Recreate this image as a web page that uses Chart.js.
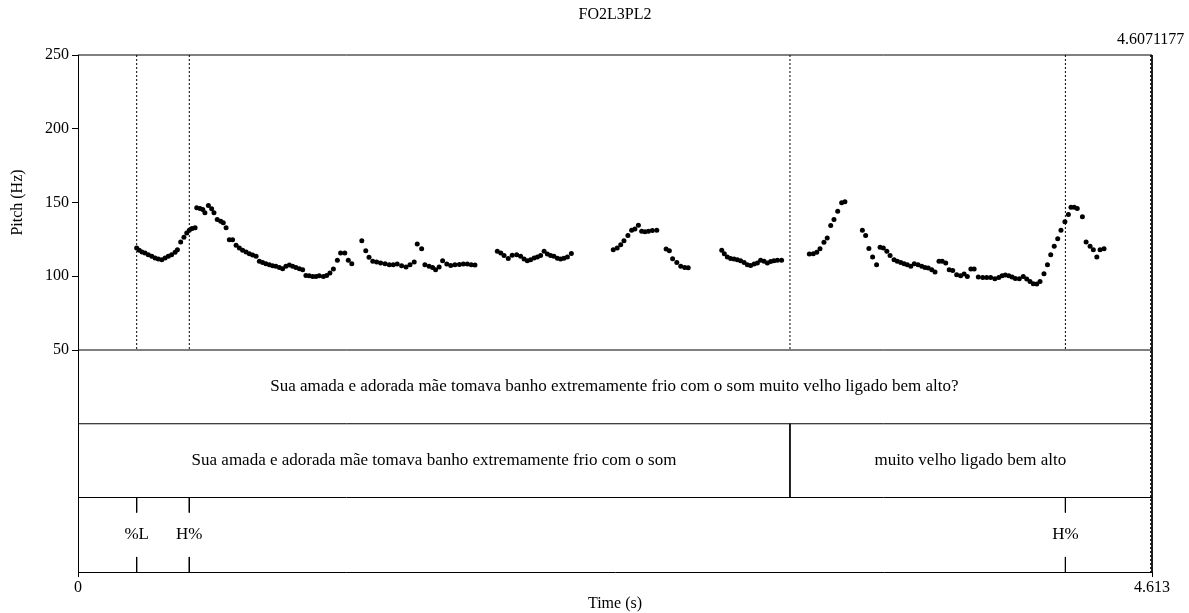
<!DOCTYPE html>
<html><head><meta charset="utf-8">
<script src="https://cdn.jsdelivr.net/npm/chart.js@4/dist/chart.umd.min.js"></script>
<style>html,body{margin:0;padding:0;background:#fff}canvas{display:block}</style>
</head><body>
<canvas id="c" width="1189" height="613"></canvas>
<script>
// ---------- data ----------
const chartTitle = 'FO2L3PL2';
const endTimeLabel = '4.6071177';
const textgridEnd = 4.6071177;
const timeMax = 4.613;
const xTickValues = [0, 4.613];
const xTickLabels = ['0', '4.613'];
const yTickValues = [50, 100, 150, 200, 250];
const yAxisTitle = 'Pitch (Hz)';
const xAxisTitle = 'Time (s)';

const pitchTime = [
 0.252,0.263,0.275,0.288,0.302,0.317,0.331,0.345,0.360,0.374,0.388,0.402,0.417,0.427,0.441,0.455,0.467,0.478,0.490,0.503,
 0.510,0.524,0.536,0.545,0.560,0.574,0.584,0.598,0.613,0.624,0.636,0.650,0.664,0.679,0.693,0.707,0.722,0.736,0.750,0.765,
 0.779,0.793,0.807,0.822,0.836,0.850,0.865,0.879,0.893,0.908,0.922,0.936,0.951,0.965,0.979,0.993,1.008,1.022,1.036,1.054,
 1.068,1.082,1.097,1.114,1.128,1.146,1.161,1.176,
 1.219,1.236,1.250,1.266,1.283,1.300,1.319,1.337,1.354,1.371,1.390,1.409,1.426,1.444,
 1.457,1.476,1.490,1.508,1.523,1.536,1.551,1.566,1.584,1.601,1.619,1.638,1.655,1.672,1.689,1.705,
 1.801,1.816,1.830,1.848,1.865,1.884,1.901,1.916,1.930,1.944,1.959,1.973,1.987,2.002,2.016,2.030,2.044,2.059,2.073,2.087,2.102,2.119,
 2.299,2.316,2.331,2.345,2.362,2.378,2.392,2.407,2.421,2.435,2.450,2.467,2.486,
 2.526,2.540,2.554,2.572,2.589,2.606,2.621,
 2.765,2.776,2.789,2.803,2.818,2.832,2.846,2.861,2.875,2.889,2.904,2.918,2.932,2.947,2.961,2.975,2.989,3.004,3.022,
 3.141,3.158,3.173,3.187,3.204,3.218,3.233,3.247,3.263,3.280,3.294,
 3.369,3.383,3.397,3.413,3.430,3.445,3.459,3.474,3.488,3.505,3.519,3.534,3.548,3.562,3.577,3.592,3.608,3.624,3.638,3.652,
 3.667,3.681,3.698,3.712,3.727,3.742,3.757,3.774,3.791,3.806,3.820,3.835,3.849,3.867,3.886,3.903,3.920,3.938,3.955,3.969,
 3.983,3.998,4.012,4.026,4.043,4.060,4.075,4.089,4.103,4.118,4.132,4.149,4.164,4.178,4.193,4.208,4.222,4.239,4.254,4.265,
 4.279,4.292,4.314,
 4.330,4.347,4.361,4.376,4.390,4.407
];
const pitchHz = [
 119.2,117.6,116.5,115.8,114.6,113.5,112.4,111.7,111.2,112.4,113.5,114.6,116.2,118.0,123.3,126.4,129.4,131.2,132.3,132.8,
 146.4,145.9,145.2,143.0,148.0,145.7,143.0,138.4,137.3,136.2,132.8,124.8,124.8,121.0,119.2,117.6,116.5,115.3,114.4,113.5,
 110.1,109.4,108.5,107.8,107.1,106.7,106.0,105.1,106.7,107.6,106.7,106.0,105.1,104.4,100.5,100.3,99.9,99.9,100.3,99.9,
 100.5,102.2,104.9,110.8,115.8,115.8,110.8,108.5,
 124.1,117.3,112.8,110.1,109.7,109.0,108.5,107.8,107.8,108.3,107.1,106.3,107.8,109.7,
 121.9,118.7,107.8,106.7,106.0,104.4,106.3,110.5,108.3,107.3,107.8,108.0,108.3,108.3,107.8,107.6,
 116.9,115.8,114.1,112.1,114.2,114.6,113.5,111.7,110.5,111.2,112.4,113.1,114.1,116.9,115.1,114.1,113.5,112.2,111.7,112.2,113.1,115.4,
 118.0,119.2,121.4,124.1,127.6,131.2,132.1,134.6,130.5,130.1,130.5,131.0,131.2,
 118.5,117.3,111.9,109.4,106.7,106.0,105.8,
 117.6,115.3,113.1,112.1,111.7,111.2,110.5,109.4,107.8,107.3,108.3,109.0,110.8,110.1,109.0,110.0,110.5,110.8,110.8,
 115.1,115.3,116.2,118.7,123.0,126.0,134.4,138.4,144.1,149.8,150.5,
 131.2,127.6,118.8,113.1,107.8,119.6,119.2,116.9,114.1,111.2,110.1,109.4,108.5,107.8,106.7,108.5,107.8,106.7,106.0,105.6,
 104.4,102.9,110.1,110.1,109.0,104.4,103.9,101.0,100.3,101.5,99.9,104.9,104.9,99.5,99.2,99.2,99.2,98.3,99.2,100.3,
 100.8,100.3,99.5,98.5,98.3,99.9,98.1,96.5,94.9,94.7,96.5,101.7,107.8,114.6,120.3,125.5,131.2,136.9,141.8,146.8,
 146.8,145.9,140.3,
 123.3,120.3,118.0,113.1,118.0,118.7
];

const tier1Bounds = [0, 4.6071177];
const tier1Labels = ['Sua amada e adorada mãe tomava banho extremamente frio com o som muito velho ligado bem alto?'];
const tier2Bounds = [0, 3.058, 4.6071177];
const tier2Labels = ['Sua amada e adorada mãe tomava banho extremamente frio com o som', 'muito velho ligado bem alto'];
const tier3Times = [0.252, 0.478, 4.241];
const tier3Labels = ['%L', 'H%', 'H%'];

// ---------- layout (value-space bands) ----------
const Y_TOP = 250, Y_PITCH_BOTTOM = 50, Y_MIN = -100.5;
const tierBands = [[0, 50], [-50, 0], [Y_MIN, -50]];
const TICK_LEN = 10.2;
const FONT = '"Liberation Serif", "Times New Roman", serif';

// ---------- build datasets ----------
const seg = (pts, opts) => Object.assign({
  type: 'line', data: pts, showLine: true, pointRadius: 0, borderColor: '#000',
  borderWidth: 1, fill: false, clip: false, tension: 0, order: 2
}, opts || {});

const datasets = [];
datasets.push({
  type: 'scatter', label: 'pitch',
  data: pitchTime.map((t, i) => ({x: t, y: pitchHz[i]})),
  pointRadius: 2.5, pointBackgroundColor: '#000', pointBorderWidth: 0, showLine: false, order: 1
});
// frame lines
datasets.push(seg([{x: 0, y: Y_TOP}, {x: timeMax, y: Y_TOP}]));
datasets.push(seg([{x: timeMax, y: Y_TOP}, {x: timeMax, y: Y_MIN}]));
[Y_PITCH_BOTTOM, 0, -50].forEach(v => datasets.push(seg([{x: 0, y: v}, {x: timeMax, y: v}])));
// end-of-textgrid dotted line
datasets.push(seg([{x: textgridEnd, y: Y_TOP}, {x: textgridEnd, y: Y_MIN}], {borderDash: [2, 2]}));
// tier 2 interior boundaries
tier2Bounds.slice(1, -1).forEach(t => {
  datasets.push(seg([{x: t, y: Y_TOP}, {x: t, y: Y_PITCH_BOTTOM}], {borderDash: [2, 2]}));
  datasets.push(seg([{x: t, y: 0}, {x: t, y: -50}]));
});
// tier 3 points
tier3Times.forEach(t => {
  datasets.push(seg([{x: t, y: Y_TOP}, {x: t, y: Y_PITCH_BOTTOM}], {borderDash: [2, 2]}));
  datasets.push(seg([{x: t, y: -50}, {x: t, y: -50 - TICK_LEN}]));
  datasets.push(seg([{x: t, y: Y_MIN + TICK_LEN}, {x: t, y: Y_MIN}]));
});

const textPlugin = {
  id: 'tgText',
  afterDraw(chart) {
    const {ctx, scales: {x, y}} = chart;
    ctx.save();
    ctx.fillStyle = '#000';
    ctx.textAlign = 'center';
    ctx.textBaseline = 'middle';
    ctx.font = '17px ' + FONT;
    const mid = (a, b) => (a + b) / 2;
    tier1Labels.forEach((s, i) => ctx.fillText(s, x.getPixelForValue(mid(tier1Bounds[i], tier1Bounds[i + 1])), y.getPixelForValue(mid(...tierBands[0]))));
    tier2Labels.forEach((s, i) => ctx.fillText(s, x.getPixelForValue(mid(tier2Bounds[i], tier2Bounds[i + 1])), y.getPixelForValue(mid(...tierBands[1]))));
    tier3Labels.forEach((s, i) => ctx.fillText(s, x.getPixelForValue(tier3Times[i]), y.getPixelForValue(mid(...tierBands[2]))));
    ctx.font = '16px ' + FONT;
    const cx = mid(x.left, x.right);
    ctx.fillText(chartTitle, cx, 15);
    ctx.fillText(xAxisTitle, cx, 604);
    ctx.fillText(endTimeLabel, x.getPixelForValue(textgridEnd), 40);
    ctx.translate(18, y.getPixelForValue(mid(Y_TOP, Y_PITCH_BOTTOM)));
    ctx.rotate(-Math.PI / 2);
    ctx.fillText(yAxisTitle, 0, 0);
    ctx.restore();
  }
};

new Chart(document.getElementById('c'), {
  data: {datasets},
  options: {
    responsive: false, animation: false, devicePixelRatio: 1,
    layout: {padding: {left: 0, right: 37, top: 55, bottom: 0}},
    plugins: {legend: {display: false}, tooltip: {enabled: false}, title: {display: false}},
    scales: {
      x: {
        type: 'linear', min: 0, max: timeMax,
        afterBuildTicks: s => { s.ticks = xTickValues.map(v => ({value: v})); },
        afterFit: s => { s.height = 41; },
        ticks: {callback: (v, i) => xTickLabels[i], color: '#000', font: {family: FONT, size: 16}, padding: 1, maxRotation: 0, autoSkip: false},
        grid: {drawOnChartArea: false, drawTicks: true, tickLength: 5, color: '#000'},
        border: {color: '#000', width: 1}
      },
      y: {
        type: 'linear', min: Y_MIN, max: Y_TOP,
        afterBuildTicks: s => { s.ticks = yTickValues.map(v => ({value: v})); },
        afterFit: s => { s.width = 78; },
        ticks: {callback: v => String(v), color: '#000', font: {family: FONT, size: 16}, padding: 3, autoSkip: false},
        grid: {drawOnChartArea: false, drawTicks: true, tickLength: 6, color: '#000'},
        border: {color: '#000', width: 1}
      }
    }
  },
  plugins: [textPlugin]
});
</script>
</body></html>
